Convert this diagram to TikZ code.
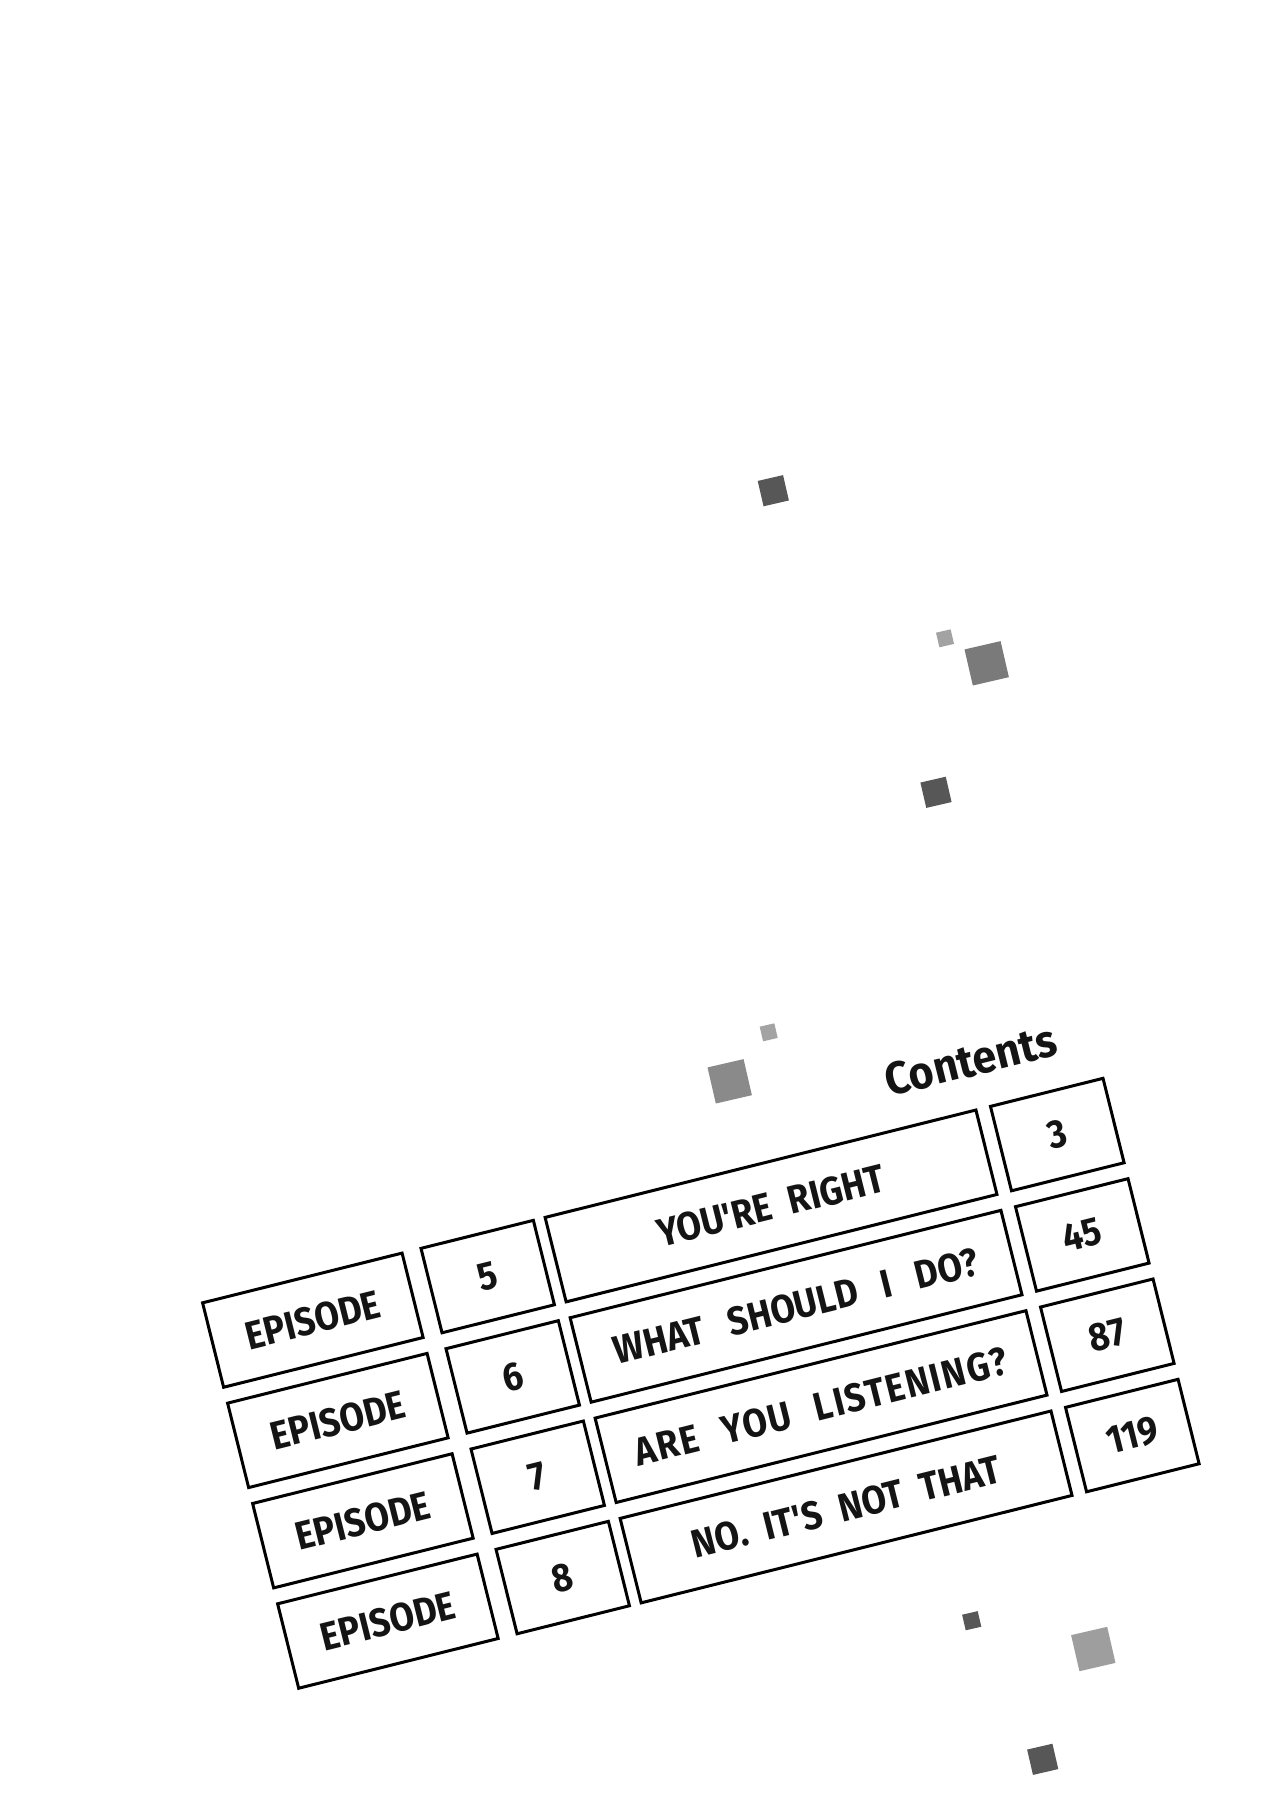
\documentclass[tikz,border=0pt]{standalone}
\usepackage{fontspec}
\setmainfont{Fira Sans}
\newfontfamily\cellfont[FakeStretch=0.9]{Fira Sans}
\newfontfamily\headfont[FakeStretch=0.94]{Fira Sans}
\newcommand{\wsp}{\hspace{0.45em}}
\newcommand{\wspb}{\hspace{0.62em}}
\begin{document}
\begin{tikzpicture}[x=0.5pt,y=-0.5pt,
  cell/.style={draw=black, line width=1.5pt, rectangle, inner sep=0pt,
    minimum height=43.5pt, transform shape, text=black!92,
    font=\cellfont\bfseries\fontsize{19.8}{22}\selectfont},
  epcell/.style={cell, minimum width=102.8pt},
  numcell/.style={cell, minimum width=57.9pt},
  titlecell/.style={cell, minimum width=222pt},
  pagecell/.style={cell, minimum width=58pt},
  sq/.style={rectangle, inner sep=0pt, draw=none, rotate=13},
  darksq/.style={sq, fill=black!66},
  midsq/.style={sq, fill=black!52},
  lightsq/.style={sq, fill=black!36}]
\useasboundingbox (0,0) rectangle (1264,1800);
\fill[white] (0,0) rectangle (1264,1800);
% decorative squares
\node[darksq, minimum size=13pt] (s1) at (773.3,490.7) {};
\node[lightsq, minimum size=7.5pt] (s2) at (945,638.3) {};
\node[midsq, minimum size=18.5pt] (s3) at (986.7,663.3) {};
\node[darksq, minimum size=13pt] (s4) at (936,792.3) {};
\node[lightsq, minimum size=7.5pt] (s5) at (768.7,1032.3) {};
\node[sq, fill=black!46, minimum size=18.5pt] (s6) at (729.7,1081.3) {};
\node[darksq, minimum size=8pt] (s7) at (971.7,1620.7) {};
\node[sq, fill=black!38, minimum size=18.5pt] (s8) at (1093.3,1649) {};
\node[darksq, minimum size=13pt] (s9) at (1042.7,1759.3) {};
\begin{scope}[shift={(202.7,1303.3)}, rotate=14]
  \node[transform shape, inner sep=0pt, text=black!92,
    font=\headfont\bfseries\fontsize{22.8}{25}\selectfont] (contents) at (804,-50) {Contents};
  % row 1
  \node[epcell] (ep1) at (102.8,43) {EPISODE};
  \node[numcell] (n1) at (283,43) {5};
  \node[titlecell] (t1) at (575,43) {YOU'RE\wsp RIGHT};
  \node[pagecell] (p1) at (870,43) {3};
  % row 2
  \node[epcell] (ep2) at (102.8,146.4) {EPISODE};
  \node[numcell] (n2) at (283,146.4) {6};
  \node[titlecell] (t2) at (575,146.4) {WHAT\wspb SHOULD\wspb I\wspb DO?};
  \node[pagecell] (p2) at (870,146.4) {45};
  % row 3
  \node[epcell] (ep3) at (102.8,249.8) {EPISODE};
  \node[numcell] (n3) at (283,249.8) {7};
  \node[titlecell] (t3) at (575,249.8) {\addfontfeature{LetterSpace=4}ARE\wspb YOU\wspb LISTENING?};
  \node[pagecell] (p3) at (870,249.8) {87};
  % row 4
  \node[epcell] (ep4) at (102.8,353.2) {EPISODE};
  \node[numcell] (n4) at (283,353.2) {8};
  \node[titlecell] (t4) at (575,353.2) {NO.\wsp IT'S\wsp NOT\wsp THAT};
  \node[pagecell] (p4) at (870,353.2) {119};
\end{scope}
\end{tikzpicture}
\end{document}
